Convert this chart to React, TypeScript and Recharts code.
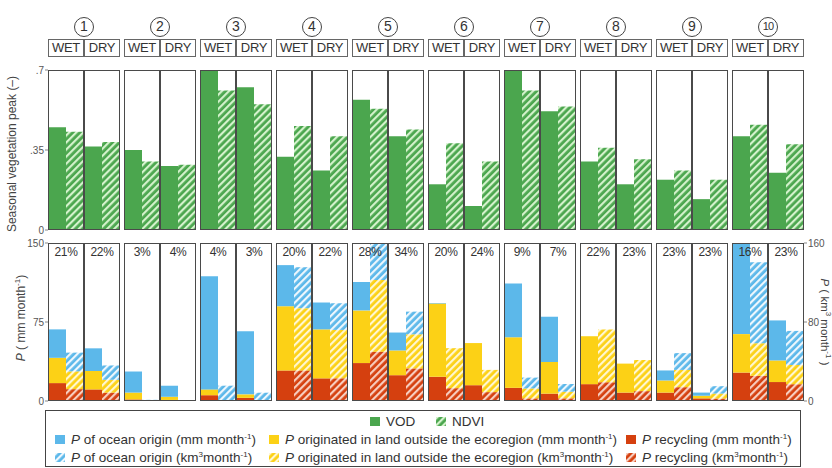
import React from 'react';
import { BarChart, Bar, XAxis, YAxis } from 'recharts';

// regions and seasons
const regions = ['1', '2', '3', '4', '5', '6', '7', '8', '9', '10'];
const seasons = ['WET', 'DRY'];

// seasonal vegetation peak (-)
const vodWet = [0.45, 0.35, 0.70, 0.32, 0.57, 0.20, 0.70, 0.30, 0.22, 0.41];
const ndviWet = [0.43, 0.30, 0.61, 0.455, 0.53, 0.38, 0.61, 0.36, 0.26, 0.46];
const vodDry = [0.365, 0.28, 0.625, 0.26, 0.41, 0.105, 0.52, 0.20, 0.135, 0.25];
const ndviDry = [0.385, 0.285, 0.55, 0.41, 0.44, 0.30, 0.54, 0.31, 0.22, 0.375];

// precipitation (mm month-1), wet season
const recWet = [17, 1.5, 5.5, 29, 36, 23, 12.5, 16, 8, 27];
const landWet = [24, 6.5, 5.5, 61, 50, 69.5, 48, 45.5, 11.5, 36.5];
const oceanWet = [27, 20, 107.5, 39, 27, 0.5, 51, 0, 9.5, 86.5];
// precipitation (mm month-1), dry season
const recDry = [11, 1, 3, 21.5, 24.5, 15, 7, 8, 2.5, 18];
const landDry = [17.5, 3, 3.3, 46.5, 23.5, 40, 30, 27.5, 2.5, 20.5];
const oceanDry = [21.5, 10.5, 60, 25.5, 17, 0, 43, 0, 3, 38];

// precipitation (km3 month-1), wet season
const recWetK = [12, 0.3, 0.3, 31, 50, 13, 2.7, 19, 14, 25.5];
const landWetK = [18, 0.4, 0.5, 63, 72.5, 40.5, 10, 53.5, 17.5, 33];
const oceanWetK = [19, 0.5, 14.7, 41.5, 37.5, 0, 11, 0, 17, 82];
// precipitation (km3 month-1), dry season
const recDryK = [8.5, 0.1, 0.3, 23, 33, 9, 2.7, 10, 2.5, 17];
const landDryK = [13, 0.1, 0.5, 49, 34.5, 22.5, 6.7, 31.5, 5, 19.5];
const oceanDryK = [14.5, 0.2, 7.6, 27, 23, 0, 7.8, 0, 7.5, 34.5];

// recycling ratio labels
const pctWet = ['21%', '3%', '4%', '20%', '28%', '20%', '9%', '22%', '23%', '16%'];
const pctDry = ['22%', '4%', '3%', '22%', '34%', '24%', '7%', '23%', '23%', '23%'];

const topTicks = [0, 0.35, 0.7];
const mmTicks = [0, 75, 150];
const kmTicks = [0, 80, 160];

const GREEN = '#4ba64e';
const BLUE = '#5cb8ea';
const YELLOW = '#fcd116';
const RED = '#d5400f';

const FONT = '"Liberation Sans", Arial, sans-serif';
const X0 = 48;
const PITCH = 76;
const PW = 72;
const TOP_Y = 70;
const TOP_H = 160;
const BOT_Y = 243;
const BOT_H = 158;
const AXW = 30;
const PAD = 8;
const FRAME = '#4a4a4a';

const fmtTop = (v: number) => (v === 0 ? '0' : String(v).replace('0.', '.'));

function Patterns() {
    const pat = (id: string, base: string, stripe: string) => (
        <pattern id={id} patternUnits="userSpaceOnUse" width={5} height={5} patternTransform="rotate(45)">
            <rect width={5} height={5} fill={base} />
            <rect x={0} width={2.2} height={5} fill={stripe} />
        </pattern>
    );
    return (
        <svg width={0} height={0} style={{ position: 'absolute' }}>
            <defs>
                {pat('hGreen', GREEN, '#d4f2cc')}
                {pat('hBlue', BLUE, '#eef7fd')}
                {pat('hYellow', YELLOW, '#fff7d2')}
                {pat('hRed', RED, '#f7cdbf')}
            </defs>
        </svg>
    );
}

function Frame({ left, top, height }: { left: number; top: number; height: number }) {
    return (
        <>
            <div style={{
                position: 'absolute', left, top, width: PW, height, boxSizing: 'border-box',
                border: `1.5px solid ${FRAME}`, pointerEvents: 'none',
            }} />
            <div style={{
                position: 'absolute', left: left + PW / 2 - 0.75, top, width: 1.5, height,
                background: FRAME, pointerEvents: 'none',
            }} />
        </>
    );
}

function Header({ i }: { i: number }) {
    const left = X0 + i * PITCH;
    const box = (k: number) => (
        <div key={k} style={{
            position: 'absolute', left: left + k * PW / 2, top: 39, width: PW / 2, height: 18,
            boxSizing: 'border-box', border: '1.5px solid #666', fontSize: 13, lineHeight: '15px',
            textAlign: 'center', color: '#333', fontFamily: FONT, letterSpacing: -0.3,
        }}>{seasons[k]}</div>
    );
    return (
        <>
            <div style={{
                position: 'absolute', left: left + PW / 2 - 10, top: 17, width: 20, height: 20,
                boxSizing: 'border-box', border: '1.5px solid #444', borderRadius: '50%',
                fontSize: i === 9 ? 11 : 14, lineHeight: '17px', textAlign: 'center', color: '#333',
                fontFamily: FONT, letterSpacing: i === 9 ? -0.8 : 0,
            }}>{regions[i]}</div>
            {box(0)}
            {box(1)}
        </>
    );
}

function TopPanel({ i }: { i: number }) {
    const data = seasons.map((s, k) => ({
        season: s,
        vod: k === 0 ? vodWet[i] : vodDry[i],
        ndvi: k === 0 ? ndviWet[i] : ndviDry[i],
    }));
    const axis = i === 0;
    const left = X0 + i * PITCH;
    return (
        <>
            <div style={{ position: 'absolute', left: left - (axis ? AXW : 0), top: TOP_Y - PAD }}>
                <BarChart width={PW + (axis ? AXW : 0)} height={TOP_H + 2 * PAD} data={data}
                    margin={{ top: PAD, right: 0, bottom: PAD, left: 0 }} barCategoryGap={0} barGap={0}>
                    <XAxis dataKey="season" hide />
                    <YAxis domain={[0, 0.7]} ticks={topTicks} allowDataOverflow hide={!axis} width={AXW}
                        tickFormatter={fmtTop} axisLine={false} tickSize={3} tickMargin={1}
                        tickLine={{ stroke: '#888' }}
                        tick={{ fill: '#555', fontSize: 10, fontFamily: FONT }} interval={0} />
                    <Bar dataKey="vod" fill={GREEN} isAnimationActive={false} />
                    <Bar dataKey="ndvi" fill="url(#hGreen)" isAnimationActive={false} />
                </BarChart>
            </div>
            <Frame left={left} top={TOP_Y} height={TOP_H} />
        </>
    );
}

function BottomPanel({ i }: { i: number }) {
    const data = seasons.map((s, k) => ({
        season: s,
        rec: k === 0 ? recWet[i] : recDry[i],
        land: k === 0 ? landWet[i] : landDry[i],
        ocean: k === 0 ? oceanWet[i] : oceanDry[i],
        recK: k === 0 ? recWetK[i] : recDryK[i],
        landK: k === 0 ? landWetK[i] : landDryK[i],
        oceanK: k === 0 ? oceanWetK[i] : oceanDryK[i],
    }));
    const leftAxis = i === 0;
    const rightAxis = i === 9;
    const left = X0 + i * PITCH;
    const tickStyle = { fill: '#555', fontSize: 10, fontFamily: FONT };
    return (
        <>
            <div style={{ position: 'absolute', left: left - (leftAxis ? AXW : 0), top: BOT_Y - PAD }}>
                <BarChart width={PW + (leftAxis || rightAxis ? AXW : 0)} height={BOT_H + 2 * PAD} data={data}
                    margin={{ top: PAD, right: 0, bottom: PAD, left: 0 }} barCategoryGap={0} barGap={0}>
                    <XAxis dataKey="season" hide />
                    <YAxis yAxisId="mm" domain={[0, 150]} ticks={mmTicks} allowDataOverflow hide={!leftAxis}
                        width={AXW} axisLine={false} tickSize={3} tickMargin={1} tickLine={{ stroke: '#888' }}
                        tick={tickStyle} interval={0} />
                    <YAxis yAxisId="km" orientation="right" domain={[0, 160]} ticks={kmTicks} allowDataOverflow
                        hide={!rightAxis} width={AXW} axisLine={false} tickSize={3} tickMargin={1}
                        tickLine={{ stroke: '#888' }} tick={tickStyle} interval={0} />
                    <Bar yAxisId="mm" stackId="mm" dataKey="rec" fill={RED} isAnimationActive={false} />
                    <Bar yAxisId="mm" stackId="mm" dataKey="land" fill={YELLOW} isAnimationActive={false} />
                    <Bar yAxisId="mm" stackId="mm" dataKey="ocean" fill={BLUE} isAnimationActive={false} />
                    <Bar yAxisId="km" stackId="km" dataKey="recK" fill="url(#hRed)" isAnimationActive={false} />
                    <Bar yAxisId="km" stackId="km" dataKey="landK" fill="url(#hYellow)" isAnimationActive={false} />
                    <Bar yAxisId="km" stackId="km" dataKey="oceanK" fill="url(#hBlue)" isAnimationActive={false} />
                </BarChart>
            </div>
            <Frame left={left} top={BOT_Y} height={BOT_H} />
            {[pctWet[i], pctDry[i]].map((p, k) => (
                <div key={k} style={{
                    position: 'absolute', left: left + k * PW / 2, top: BOT_Y + 2, width: PW / 2,
                    textAlign: 'center', fontSize: 12, color: '#333', fontFamily: FONT, letterSpacing: -0.3,
                }}>{p}</div>
            ))}
        </>
    );
}

function Swatch({ fill }: { fill: string }) {
    return (
        <svg width={10} height={9} style={{ position: 'absolute', left: 0, top: 4 }}>
            <rect width={10} height={9} fill={fill} />
        </svg>
    );
}

function LegendItem({ x, y, fill, children }: { x: number; y: number; fill: string; children: React.ReactNode }) {
    return (
        <div style={{
            position: 'absolute', left: x, top: y - 8, height: 17, paddingLeft: 16, whiteSpace: 'nowrap',
            fontSize: 13.5, lineHeight: '17px', color: '#333', fontFamily: FONT,
        }}>
            <Swatch fill={fill} />
            {children}
        </div>
    );
}

const sup: React.CSSProperties = { fontSize: 8, verticalAlign: 5, lineHeight: 0 };
const mm = <>(mm month<span style={sup}>-1</span>)</>;
const km = <>(km<span style={sup}>3</span>month<span style={sup}>-1</span>)</>;
const P = <i>P</i>;

function Legend() {
    return (
        <>
            <div style={{
                position: 'absolute', left: 45, top: 410, width: 756, height: 57, boxSizing: 'border-box',
                border: '1.5px solid #444',
            }} />
            <LegendItem x={370} y={421} fill={GREEN}>VOD</LegendItem>
            <LegendItem x={436} y={421} fill="url(#hGreen)">NDVI</LegendItem>
            <LegendItem x={55} y={439} fill={BLUE}>{P} of ocean origin {mm}</LegendItem>
            <LegendItem x={269} y={439} fill={YELLOW}>{P} originated in land outside the ecoregion {mm}</LegendItem>
            <LegendItem x={626} y={439} fill={RED}>{P} recycling {mm}</LegendItem>
            <LegendItem x={55} y={457} fill="url(#hBlue)">{P} of ocean origin {km}</LegendItem>
            <LegendItem x={269} y={457} fill="url(#hYellow)">{P} originated in land outside the ecoregion {km}</LegendItem>
            <LegendItem x={626} y={457} fill="url(#hRed)">{P} recycling {km}</LegendItem>
        </>
    );
}

function VTitle({ cx, cy, rot, size = 12, children }: { cx: number; cy: number; rot: number; size?: number; children: React.ReactNode }) {
    const w = 200;
    return (
        <div style={{
            position: 'absolute', left: cx - w / 2, top: cy - 8, width: w, height: 16, lineHeight: '16px',
            textAlign: 'center', transform: `rotate(${rot}deg)`, fontSize: size, color: '#444',
            fontFamily: FONT, whiteSpace: 'nowrap',
        }}>{children}</div>
    );
}

export default function App() {
    return (
        <div style={{ position: 'absolute', left: 0, top: 0, width: 832, height: 468, background: '#fff', overflow: 'hidden' }}>
            <Patterns />
            {regions.map((r, i) => <Header key={'h' + r} i={i} />)}
            {regions.map((r, i) => <TopPanel key={'t' + r} i={i} />)}
            {regions.map((r, i) => <BottomPanel key={'b' + r} i={i} />)}
            <VTitle cx={12} cy={154} rot={-90}>Seasonal vegetation peak (–)</VTitle>
            <VTitle cx={21} cy={318} rot={-90}>{P} ( mm month<span style={sup}>-1</span>)</VTitle>
            <VTitle cx={825} cy={322} rot={90} size={11.5}>{P} ( km<span style={sup}>3</span> month<span style={sup}>-1</span> )</VTitle>
            <Legend />
        </div>
    );
}
